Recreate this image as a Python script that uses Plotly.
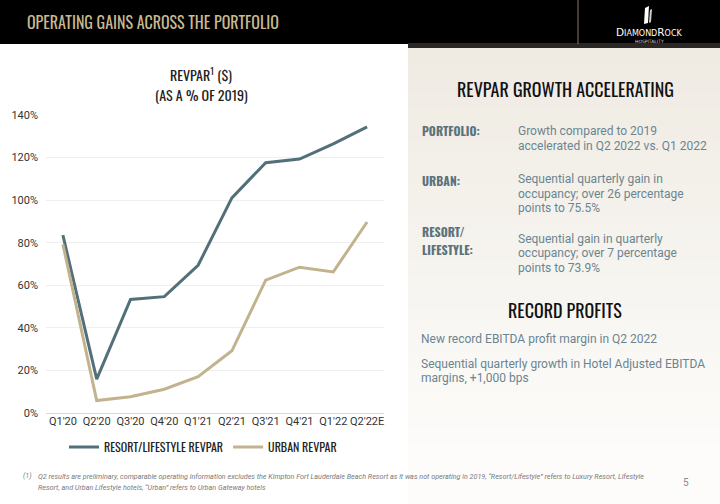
import plotly.graph_objects as go

quarters = ["Q1'20", "Q2'20", "Q3'20", "Q4'20", "Q1'21", "Q2'21", "Q3'21", "Q4'21", "Q1'22", "Q2'22E"]
resort_revpar = [83.5, 16, 53.4, 54.7, 69.4, 101, 117.5, 119.2, 126.3, 134.3]
urban_revpar = [79.2, 6, 7.8, 11.3, 17.2, 29.3, 62.4, 68.5, 66.3, 89.7]
y_ticks = [0, 20, 40, 60, 80, 100, 120, 140]
y_tick_labels = ["0%", "20%", "40%", "60%", "80%", "100%", "120%", "140%"]

W, H = 720, 504
COND = "Oswald, 'Liberation Sans Narrow', 'DejaVu Sans Condensed', 'Roboto Condensed', sans-serif"
BODY = "Roboto, 'Noto Sans', sans-serif"
RESORT_C = "#52707a"
URBAN_C = "#c2b38e"
LABEL_C = "#5b727b"
TEXT_C = "#6a8591"

def px(x):
    return x / W

def py(y):
    return 1 - y / H

fig = go.Figure()
fig.add_trace(go.Scatter(x=quarters, y=resort_revpar, mode="lines", name="RESORT/LIFESTYLE REVPAR",
                         line=dict(color=RESORT_C, width=3)))
fig.add_trace(go.Scatter(x=quarters, y=urban_revpar, mode="lines", name="URBAN REVPAR",
                         line=dict(color=URBAN_C, width=3)))

shapes = []
# right panel gradient
n = 30
top, bot = 48, 504
c0 = (239, 235, 227)
c1 = (253, 252, 250)
for i in range(n):
    t = i / (n - 1)
    col = tuple(int(round(c0[k] + (c1[k] - c0[k]) * min(1, t * 1.1))) for k in range(3))
    y0 = top + (bot - top) * i / n
    y1 = top + (bot - top) * (i + 1) / n + 1
    shapes.append(dict(type="rect", xref="paper", yref="paper", x0=px(408), x1=1, y0=max(0, py(y1)), y1=py(y0),
                       fillcolor="rgb(%d,%d,%d)" % col, line=dict(width=0), layer="below"))
# header
shapes.append(dict(type="rect", xref="paper", yref="paper", x0=0, x1=1, y0=py(44), y1=1,
                   fillcolor="#000000", line=dict(width=0), layer="below"))
shapes.append(dict(type="rect", xref="paper", yref="paper", x0=px(408), x1=1, y0=py(48), y1=py(43),
                   fillcolor="#2a2724", line=dict(width=0), layer="below"))
shapes.append(dict(type="line", xref="paper", yref="paper", x0=px(578), x1=px(578), y0=py(44), y1=1,
                   line=dict(color="#8a7d5e", width=1)))
# logo glyph
shapes.append(dict(type="path", xref="paper", yref="paper",
                   path="M %f,%f L %f,%f L %f,%f L %f,%f Z" % (px(645), py(8), px(649), py(6), px(648), py(23), px(644), py(24)),
                   fillcolor="#ffffff", line=dict(width=0)))
shapes.append(dict(type="path", xref="paper", yref="paper",
                   path="M %f,%f L %f,%f L %f,%f L %f,%f Z" % (px(650), py(10), px(652), py(9), px(651), py(22), px(649), py(23)),
                   fillcolor="#cfcfcf", line=dict(width=0)))

ann = []
def A(x, y, text, size, color, family=BODY, anchor="left", bold=False, italic=False):
    t = text
    if bold:
        t = "<b>" + t + "</b>"
    if italic:
        t = "<i>" + t + "</i>"
    ann.append(dict(x=px(x), y=py(y), xref="paper", yref="paper", text=t, showarrow=False,
                    xanchor=anchor, yanchor="middle", font=dict(size=size, color=color, family=family)))

A(25, 22, "OPERATING GAINS ACROSS THE PORTFOLIO", 16, "#c9b98f", COND)
A(649, 32, "D<span style='font-size:8px'>IAMOND</span>R<span style='font-size:8px'>OCK</span>", 10.5, "#ffffff", "'DejaVu Sans', sans-serif", "center")
A(649, 41, "HOSPITALITY", 4.5, "#dddddd", "'DejaVu Sans', sans-serif", "center")

A(201, 74, "REVPAR<sup>1</sup> ($)", 14, "#222222", COND, "center")
A(201, 94, "(AS A % OF 2019)", 14, "#222222", COND, "center")

A(565, 89, "REVPAR GROWTH ACCELERATING", 18, "#111111", COND, "center")
A(420, 131, "PORTFOLIO:", 12, LABEL_C, COND, bold=True)
A(516, 131, "Growth compared to 2019", 12, TEXT_C)
A(516, 146, "accelerated in Q2 2022 vs. Q1 2022", 12, TEXT_C)
A(420, 180, "URBAN:", 12, LABEL_C, COND, bold=True)
A(516, 179, "Sequential quarterly gain in", 12, TEXT_C)
A(516, 194, "occupancy; over 26 percentage", 12, TEXT_C)
A(516, 208, "points to 75.5%", 12, TEXT_C)
A(420, 232, "RESORT/", 12, LABEL_C, COND, bold=True)
A(420, 249, "LIFESTYLE:", 12, LABEL_C, COND, bold=True)
A(516, 239, "Sequential gain in quarterly", 12, TEXT_C)
A(516, 253, "occupancy; over 7 percentage", 12, TEXT_C)
A(516, 268, "points to 73.9%", 12, TEXT_C)

A(565, 310, "RECORD PROFITS", 18, "#111111", COND, "center")
A(419, 339, "New record EBITDA profit margin in Q2 2022", 12, TEXT_C)
A(419, 364, "Sequential quarterly growth in Hotel Adjusted EBITDA", 12, TEXT_C)
A(419, 378, "margins, +1,000 bps", 12, TEXT_C)

A(21, 476, "(1)", 7, "#7a7a7a", italic=True)
A(36, 476, "Q2 results are preliminary, comparable operating information excludes the Kimpton Fort Lauderdale Beach Resort as it was not operating in 2019, \u201cResort/Lifestyle\u201d refers to Luxury Resort, Lifestyle", 7.2, "#7a7a7a", italic=True)
A(36, 487, "Resort, and Urban Lifestyle hotels, \u201cUrban\u201d refers to Urban Gateway hotels", 7.2, "#7a7a7a", italic=True)
A(686, 482, "5", 10, "#8a8a8a", anchor="center")

fig.update_layout(
    template="none",
    width=W, height=H, autosize=False,
    margin=dict(l=0, r=0, t=0, b=0, pad=0),
    paper_bgcolor="#ffffff", plot_bgcolor="rgba(0,0,0,0)",
    shapes=shapes, annotations=ann,
    xaxis=dict(domain=[px(46), px(384)], type="category", range=[-0.5, len(quarters) - 0.5],
               showgrid=False, showline=False, zeroline=False, automargin=False, ticks="",
               tickfont=dict(family=BODY, size=11, color="#333333"), fixedrange=True),
    yaxis=dict(domain=[py(413.3), py(114.7)], range=[0, 140], tickvals=y_ticks, ticktext=y_tick_labels,
               showgrid=True, gridcolor="#efefef", gridwidth=1, zeroline=True, zerolinecolor="#d6d6d6",
               zerolinewidth=1, showline=False, ticks="", ticklabelstandoff=7, automargin=False,
               tickfont=dict(family=BODY, size=11, color="#333333"), fixedrange=True),
    legend=dict(orientation="h", x=px(203), xanchor="center", y=py(447), yanchor="middle",
                font=dict(family=COND, size=12, color="#222222"), bgcolor="rgba(0,0,0,0)",
                itemwidth=30, tracegroupgap=0),
    showlegend=True,
)

fig.write_html("out.html", config={"displayModeBar": False},
               post_script="document.body.style.margin='0';document.body.style.overflow='hidden';")
